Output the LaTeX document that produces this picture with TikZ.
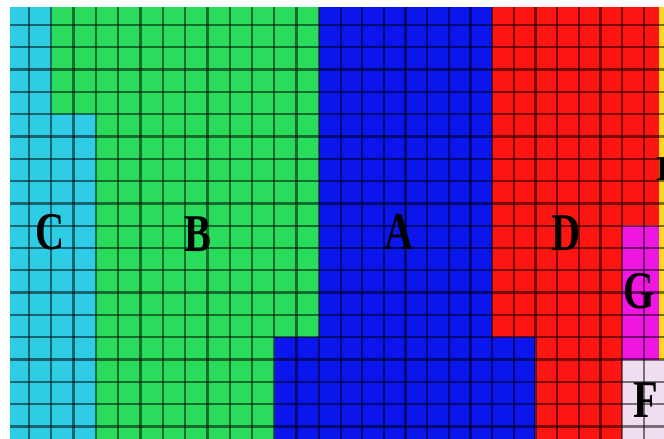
\documentclass[tikz,border=0pt]{standalone}
\usepackage{fontspec}
\setmainfont{Liberation Serif}
\definecolor{cC}{RGB}{45,205,230}
\definecolor{cB}{RGB}{42,220,92}
\definecolor{cA}{RGB}{10,22,235}
\definecolor{cD}{RGB}{252,22,18}
\definecolor{cG}{RGB}{240,22,225}
\definecolor{cF}{RGB}{240,222,240}
\definecolor{cE}{RGB}{255,215,35}
\begin{document}
\begin{tikzpicture}[x=1pt,y=-1pt,
  lab/.style={font=\fontsize{53}{53}\selectfont\bfseries, text=black, inner sep=0pt, xscale=0.76},
  gridline/.style={draw=black, draw opacity=0.5, line width=2.3pt}]
\useasboundingbox (0,0) rectangle (664,439);
\fill[white] (0,0) rectangle (664,439);
\begin{scope}
\clip (0,0) rectangle (664,439);
% regions
\fill[cC] (10,7) -- (51.3,7) -- (51.3,114.2) -- (95.9,114.2) -- (95.9,439) -- (10,439) -- cycle;
\fill[cB] (51.3,7) -- (319,7) -- (319,337.2) -- (274.3,337.2) -- (274.3,439) -- (95.9,439) -- (95.9,114.2) -- (51.3,114.2) -- cycle;
\fill[cA] (319,7) -- (492.2,7) -- (492.2,337.2) -- (535.5,337.2) -- (535.5,439) -- (274.3,439) -- (274.3,337.2) -- (319,337.2) -- cycle;
\fill[cD] (492.2,7) -- (659,7) -- (659,225.7) -- (622,225.7) -- (622,439) -- (535.5,439) -- (535.5,337.2) -- (492.2,337.2) -- cycle;
\fill[cG] (622,225.7) rectangle (659,359.5);
\fill[cE] (659,7) rectangle (664,359.5);
\fill[cF] (622,359.5) rectangle (664,439);
% grid
\foreach \k in {0,...,13} {
  \draw[gridline] ({29+22.3*\k},7) -- ({29+22.3*\k},439);
}
\foreach \k in {1,...,15} {
  \draw[gridline] ({319+21.65*\k},7) -- ({319+21.65*\k},439);
}
\foreach \k in {0,...,18} {
  \draw[gridline] (10,{25+22.3*\k}) -- (664,{25+22.3*\k});
}
\end{scope}
% labels
\node[lab] (labC) at (50,232) {C};
\node[lab] (labB) at (198,234) {B};
\node[lab] (labA) at (399,232) {A};
\node[lab] (labD) at (566,233) {D};
\node[lab] (labG) at (639,291) {G};
\node[lab] (labF) at (646,400) {F};
\node[font=\fontsize{35}{35}\selectfont\bfseries, inner sep=0pt, anchor=west] (labE) at (656,169) {E};
\end{tikzpicture}
\end{document}
